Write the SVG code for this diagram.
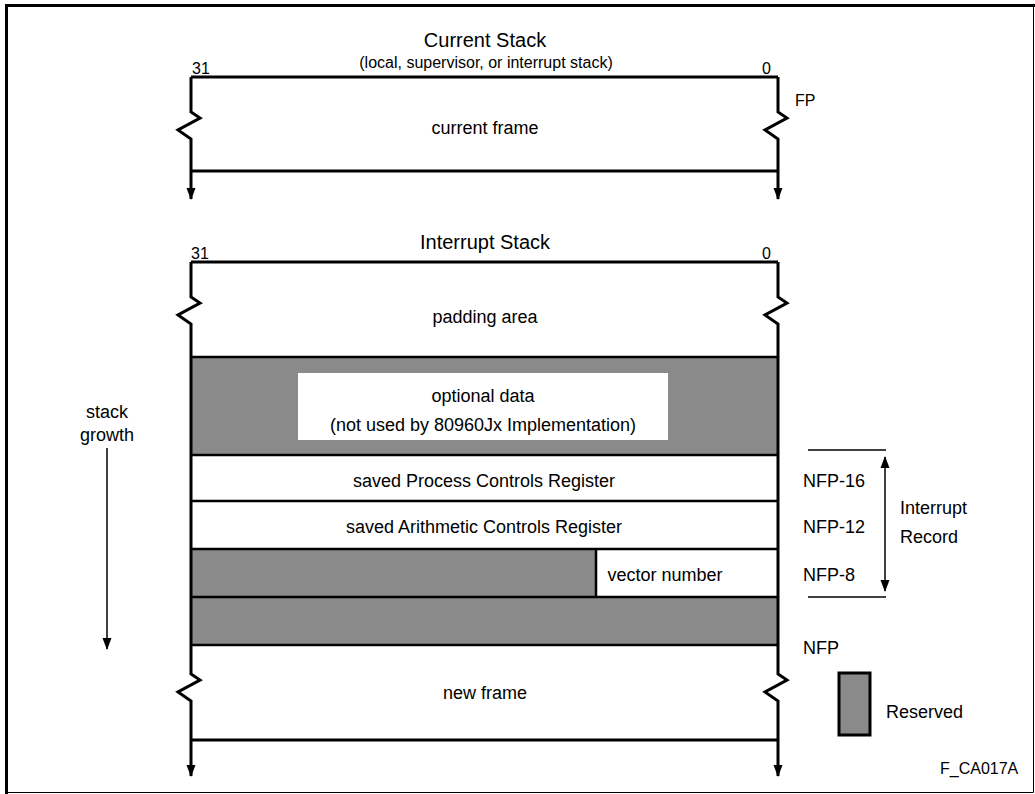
<svg xmlns="http://www.w3.org/2000/svg" width="1035" height="794" viewBox="0 0 1035 794">
<defs>
<style>
text{font-family:"Liberation Sans",Arial,sans-serif;fill:#000}
.t{font-size:18px}
.h{font-size:20px}
.s{font-size:16px}
.m{text-anchor:middle}
.b{stroke:#000;stroke-width:3;fill:none}
.r{stroke:#000;stroke-width:2.5;fill:none}
.th{stroke:#000;stroke-width:1.5;fill:none}
.g{fill:#8a8a8a}
.w{fill:#fff}
</style>
<marker id="ah" viewBox="0 0 12 10" refX="11" refY="5" markerWidth="13" markerHeight="10" markerUnits="userSpaceOnUse" orient="auto-start-reverse">
<path d="M0,0.5 L12,5 L0,9.5 Z" fill="#000"/>
</marker>
</defs>
<rect width="1035" height="794" fill="#fff"/>
<g id="border">
<path d="M6.5,794 V5.5 H1035" stroke="#000" stroke-width="3" fill="none"/>
<path d="M1033.5,5 V792.5 H6" stroke="#000" stroke-width="1" fill="none"/>
</g>

<g id="current-stack">
<text class="h m" x="485" y="47">Current Stack</text>
<text class="s m" x="486" y="68">(local, supervisor, or interrupt stack)</text>
<text class="s" x="192" y="74">31</text>
<text class="s" x="762" y="74">0</text>
<text class="s" x="795" y="106">FP</text>
<line class="b" x1="191" y1="77" x2="778" y2="77"/>
<line class="b" x1="191" y1="171" x2="778" y2="171"/>
<path class="b" d="M191,77 V112 L200,118 L178,130 L191,139 V199" marker-end="url(#ah)"/>
<path class="b" d="M778,77 V112 L787,118 L765,130 L778,139 V199" marker-end="url(#ah)"/>
<text class="t m" x="485" y="134">current frame</text>
</g>

<g id="interrupt-stack">
<text class="h m" x="485" y="249">Interrupt Stack</text>
<text class="s" x="191" y="259">31</text>
<text class="s" x="762" y="259">0</text>
</g>

<g id="optional-data">
<rect class="g" x="191" y="357" width="587" height="98"/>
<rect class="w" x="298" y="373" width="370" height="67"/>
<text class="t m" x="483" y="402">optional data</text>
<text class="t m" x="483" y="431">(not used by 80960Jx Implementation)</text>
</g>

<g id="vector-row">
<rect class="g" x="191" y="549" width="405" height="48"/>
<text class="t m" x="665" y="581">vector number</text>
</g>

<g id="reserved-row">
<rect class="g" x="191" y="597" width="587" height="48"/>
</g>

<g id="padding-area">
<text class="t m" x="485" y="323">padding area</text>
</g>
<g id="saved-pcr">
<text class="t m" x="484" y="487">saved Process Controls Register</text>
</g>
<g id="saved-acr">
<text class="t m" x="484" y="533">saved Arithmetic Controls Register</text>
</g>
<g id="new-frame">
<text class="t m" x="485" y="699">new frame</text>
</g>

<g id="stack-lines">
<line class="b" x1="191" y1="262" x2="778" y2="262"/>
<line class="r" x1="191" y1="357" x2="778" y2="357"/>
<line class="r" x1="191" y1="455" x2="778" y2="455"/>
<line class="r" x1="191" y1="501" x2="778" y2="501"/>
<line class="r" x1="191" y1="549" x2="778" y2="549"/>
<line class="r" x1="191" y1="597" x2="778" y2="597"/>
<line class="r" x1="596" y1="549" x2="596" y2="597"/>
<line class="r" x1="191" y1="645" x2="778" y2="645"/>
<line class="b" x1="191" y1="740" x2="778" y2="740"/>
<path class="b" d="M191,262 V297 L200,303 L178,315 L191,324 V674 L200,680 L178,692 L191,701 V776" marker-end="url(#ah)"/>
<path class="b" d="M778,262 V297 L787,303 L765,315 L778,324 V674 L787,680 L765,692 L778,701 V776" marker-end="url(#ah)"/>
</g>

<g id="labels">
<text class="t" x="803" y="487">NFP-16</text>
<text class="t" x="803" y="533">NFP-12</text>
<text class="t" x="803" y="581">NFP-8</text>
<text class="t" x="803" y="654">NFP</text>
<text class="t" x="900" y="514">Interrupt</text>
<text class="t" x="900" y="543">Record</text>
<text class="t m" x="107" y="418">stack</text>
<text class="t m" x="107" y="441">growth</text>
<text class="s" x="940" y="774">F_CA017A</text>
</g>

<g id="connectors">
<line class="th" x1="808" y1="450" x2="886" y2="450"/>
<line class="th" x1="808" y1="597" x2="886" y2="597"/>
<line class="th" x1="885" y1="457" x2="885" y2="591" marker-start="url(#ah)" marker-end="url(#ah)"/>
<line class="th" x1="107" y1="448" x2="107" y2="649" marker-end="url(#ah)"/>
</g>

<g id="legend">
<rect class="g" x="839" y="673" width="31" height="62" stroke="#000" stroke-width="3"/>
<text class="t" x="886" y="718">Reserved</text>
</g>
</svg>
